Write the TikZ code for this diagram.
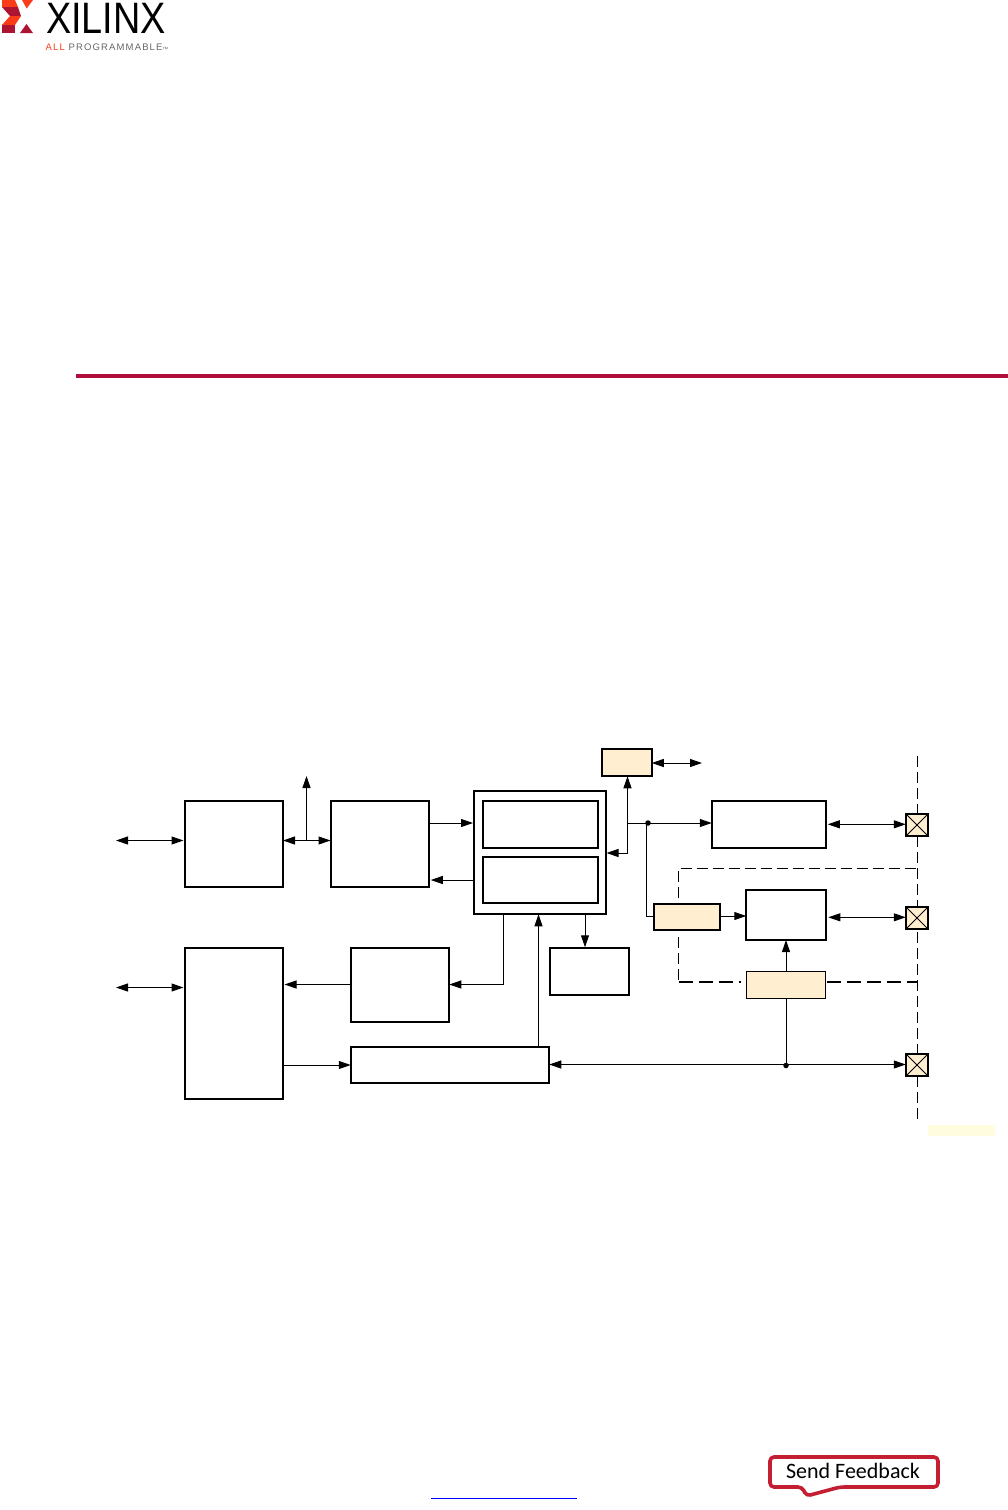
\documentclass[tikz,border=0pt]{standalone}
\usepackage{fontspec}
\setmainfont{Carlito}
\newfontfamily\logofont{Liberation Sans}
\usepackage{xcolor}
\usetikzlibrary{arrows.meta, positioning}
\definecolor{beige}{RGB}{255,239,208}
\definecolor{rulered}{RGB}{176,12,60}
\definecolor{fbred}{RGB}{196,30,50}
\definecolor{paleyellow}{RGB}{255,252,224}
\definecolor{logoorange}{RGB}{250,60,25}
\definecolor{logodark}{RGB}{172,20,50}
\begin{document}
\begin{tikzpicture}[x=1pt, y=-1pt, node distance=47.5pt,
    box/.style={draw, line width=2pt, inner sep=0pt, outer sep=0pt, fill=white},
    tan/.style={box, fill=beige},
    pad/.style={draw, line width=1.6pt, inner sep=0pt, outer sep=0pt, fill=beige, minimum size=22.5pt},
    arr/.style={-{Triangle[length=12pt, width=8pt]}, line width=1pt},
    dbl/.style={{Triangle[length=12pt, width=8pt]}-{Triangle[length=12pt, width=8pt]}, line width=1pt},
    wire/.style={line width=1pt},
    thindash/.style={line width=1pt, dash pattern=on 11pt off 5pt},
    thickdash/.style={line width=2pt, dash pattern=on 14pt off 6pt},
    dot/.style={circle, fill=black, inner sep=0pt, minimum size=5.5pt}]
  \useasboundingbox (0,0) rectangle (1008,1510);
  % header
  \fill[rulered] (76,373.8) rectangle (1008,378);
  \fill[paleyellow] (928,1125) rectangle (995,1136);
  \fill[logoorange] (2,0) -- (15,0) -- (18,7) -- (2,7) -- cycle;
  \fill[logodark] (2,7) -- (18,7) -- (21,16) -- (10,16) -- cycle;
  \fill[logoorange] (10,16) -- (21,16) -- (15,25) -- (2,25) -- cycle;
  \fill[logodark] (2,25) -- (15,25) -- (15,33) -- (2,33) -- cycle;
  \fill[logoorange] (22,0) -- (33,0) -- (26.7,8.5) -- cycle;
  \fill[logodark] (20,33) -- (33,33) -- (26.5,24) -- cycle;
  \node[inner sep=0pt, anchor=west, xscale=0.86, transform shape] (brand) at (46,18) {\logofont\fontsize{44pt}{44pt}\selectfont XILINX};
  \node[inner sep=0pt, anchor=west] (slogan) at (45.5,47.5) {\logofont\fontsize{9.5pt}{10pt}\selectfont\addfontfeatures{LetterSpace=12}\textcolor{logoorange}{ALL} \textcolor{black!60}{PROGRAMMABLE}\raisebox{-1.5pt}{\fontsize{6pt}{6pt}\selectfont\textcolor{black!60}{™}}};
  % left column
  \node[box, minimum width=98pt, minimum height=86pt] (phy) at (234,844) {};
  \node[box, right=of phy, minimum width=98.5pt, minimum height=86pt] (mac) {};
  \node[box, below=61pt of phy, minimum width=98pt, minimum height=151pt] (mem) {};
  \node[box, minimum width=98.5pt, minimum height=74pt] (fifo) at (400,984.5) {};
  \node[box, minimum width=198.5pt, minimum height=36.5pt] (ctrl) at (450,1065) {};
  % centre
  \node[box, minimum width=132.5pt, minimum height=123.5pt] (core) at (540,852.5) {};
  \node[box, minimum width=115.5pt, minimum height=47pt] (regs) at (540.5,824.5) {};
  \node[box, below=9pt of regs, minimum width=115.5pt, minimum height=46pt] (bufs) {};
  \node[box, minimum width=79pt, minimum height=47.5pt] (dma) at (589.5,971.5) {};
  \node[tan, minimum width=49.5pt, minimum height=27.5pt] (clk) at (627,762.5) {};
  % right side
  \node[box, minimum width=114.5pt, minimum height=47pt] (uart) at (769,824.5) {};
  \node[tan, minimum width=66.5pt, minimum height=26.5pt] (sel) at (687,917) {};
  \node[box, minimum width=79.5pt, minimum height=50pt] (drv) at (786,915) {};
  \node[tan, line width=0.8pt, minimum width=79.5pt, minimum height=27pt] (ref) at (786,985) {};
  \coordinate (bound) at (917.5,756);
  \coordinate (boundend) at (917.5,1119);
  \coordinate (frameNW) at (678.5,868.5);
  \coordinate (frameNE) at (917.5,868.5);
  \coordinate (frameSW) at (678.5,982);
  \coordinate (frameSE) at (917.5,982);
  % dashed boundary goes under the pads
  \draw[thindash] (bound) -- (boundend);
  \draw[thindash] (678.5,898) -- (frameNW) -- (frameNE);
  \draw[thindash] (678.5,937) -- (frameSW);
  \draw[thickdash] (frameSW) -- (741,982);
  \draw[thickdash] (827,982) -- (frameSE);
  \node[pad] (pad1) at (917,825) {};
  \node[pad] (pad2) at (917,918) {};
  \node[pad] (pad3) at (917,1065) {};
  \draw[wire] (pad1.north west) -- (pad1.south east) (pad1.north east) -- (pad1.south west);
  \draw[wire] (pad2.north west) -- (pad2.south east) (pad2.north east) -- (pad2.south west);
  \draw[wire] (pad3.north west) -- (pad3.south east) (pad3.north east) -- (pad3.south west);
  % free ends and junctions
  \coordinate (hostA) at (116,840.5);
  \coordinate (hostB) at (116,987.5);
  \coordinate (busup) at (306.5,776);
  \coordinate (busjoin) at (306.5,840.5);
  \coordinate (clkout) at (702,763);
  \coordinate (corein) at (606.5,853);
  \coordinate (corebend) at (627.5,853);
  \node[dot] (tap) at (648,823) {};
  \node[dot] (node3) at (786,1065.5) {};
  \coordinate (tapbend) at (646.5,916);
  \coordinate (row1) at (917,824.3);
  \coordinate (row2) at (917,917.3);
  \coordinate (row3) at (917,1064.5);
  % connectors
  \draw[dbl, shorten >=1.5pt] (hostA) -- (phy.west |- hostA);
  \draw[dbl, shorten >=1.5pt] (hostB) -- (mem.west |- hostB);
  \draw[dbl] (phy.east |- busjoin) -- (mac.west |- busjoin);
  \draw[arr] (busjoin) -- (busup);
  \draw[arr] (mac.east |- regs) ++(0,-1.5) -- ++(44,0);
  \draw[arr] (core.west |- bufs) -- ++(-43,0);
  \draw[arr] (core.south -| 503.5,0) |- (fifo.east);
  \draw[arr, shorten >=1.5pt] (fifo.west) -- (mem.east |- fifo);
  \draw[arr] (mem.east |- ctrl) -- (ctrl.west);
  \draw[arr] (ctrl.north -| 538.5,0) -- (core.south -| 538.5,0);
  \draw[arr] (core.south -| dma.north) ++(-4.5,0) -- ++(0,33);
  \draw[dbl] (clk.east |- clkout) -- (clkout);
  \draw[dbl] (corein) -- (corebend) -- (clk.south -| corebend);
  \draw[arr] (corebend |- tap) -- (uart.west |- tap);
  \draw[wire] (tapbend |- tap) -- (tapbend) -- (sel.west |- tapbend);
  \draw[arr] (sel.east |- tapbend) -- (drv.west |- tapbend);
  \draw[dbl] (uart.east |- row1) ++(1.5,0) -- (pad1.west |- row1);
  \draw[dbl] (drv.east |- row2) ++(2.5,0) -- (pad2.west |- row2);
  \draw[dbl] (ctrl.east |- row3) -- (pad3.west |- row3);
  \draw[arr] (ref.north) -- (drv.south);
  \draw[wire] (ref.south) -- (node3);
  % footer
  \draw[blue, line width=1pt] (431,1498.5) -- (577,1498.5);
  \draw[fbred, line width=3.6pt, rounded corners=4pt, fill=white] (770,1457) -- (938,1457) -- (938,1487) -- (840,1487) -- (806.5,1496) -- (802,1487) -- (770,1487) -- cycle;
  \node[inner sep=0pt] (feedback) at (853,1471) {\fontsize{22pt}{22pt}\selectfont Send Feedback};
\end{tikzpicture}
\end{document}
